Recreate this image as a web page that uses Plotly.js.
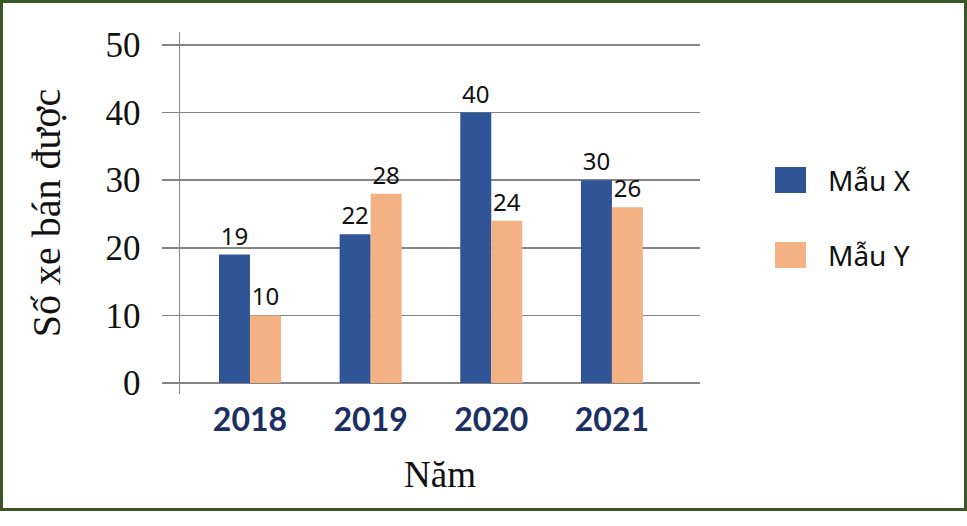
<!DOCTYPE html>
<html>
<head>
<meta charset="utf-8">
<script src="https://cdn.plot.ly/plotly-3.0.1.min.js"></script>
<style>
  html, body { margin: 0; padding: 0; background: #ffffff; }
  #wrap { position: relative; width: 967px; height: 526px; }
  #chart { width: 967px; height: 526px; }
  #frame { position: absolute; left: 0; top: 0; width: 967px; height: 511px;
           border: 3px solid #3b5726; box-sizing: border-box; pointer-events: none; }
</style>
</head>
<body>
<div id="wrap">
  <div id="chart"></div>
  <div id="frame"></div>
</div>
<script>
const years = ["2018", "2019", "2020", "2021"];
const seriesNames = ["Mẫu X", "Mẫu Y"];
const mauX = [19, 22, 40, 30];
const mauY = [10, 28, 24, 26];
const colors = ["#2f5597", "#f4b183"];
const yTicks = [0, 10, 20, 30, 40, 50];
const yTitle = "Số xe bán được";
const xTitle = "Năm";

const seriesValues = [mauX, mauY];
const traces = seriesValues.map((vals, i) => ({
  type: "bar",
  name: seriesNames[i],
  x: years,
  y: vals,
  marker: { color: colors[i] },
  text: vals.map(String),
  textposition: "outside",
  textfont: { family: "Noto Sans", size: 24, color: "#111111" },
  cliponaxis: false,
  hoverinfo: "skip"
}));

// legend drawn as shapes + annotations (large squares like the reference)
const legendBoxes = [[0.627, 0.5552], [0.4199, 0.3481]];
const shapes = seriesNames.map((n, i) => ({
  type: "rect", xref: "paper", yref: "paper",
  x0: 1.1442, x1: 1.2038, y0: legendBoxes[i][1], y1: legendBoxes[i][0],
  fillcolor: colors[i], line: { width: 0 }
}));
const annotations = seriesNames.map((n, i) => ({
  xref: "paper", yref: "paper",
  x: 1.243, y: (legendBoxes[i][0] + legendBoxes[i][1]) / 2,
  xanchor: "left", yanchor: "middle",
  text: n, showarrow: false,
  font: { family: "Noto Sans", size: 28, color: "#111111" }
}));

const layout = {
  width: 967, height: 526,
  margin: { l: 180, r: 267, t: 32, b: 132, pad: 0 },
  paper_bgcolor: "#ffffff", plot_bgcolor: "#ffffff",
  barmode: "group", bargap: 0.486, bargroupgap: 0,
  showlegend: false,
  xaxis: {
    type: "category",
    range: [-0.58, 3.73],
    showgrid: false, zeroline: false, showline: false, ticks: "",
    tickfont: { family: "Lato", size: 32, color: "#1b2f63", weight: 700 },
    ticklabelstandoff: 4,
    title: { text: xTitle, font: { family: "Liberation Serif", size: 37, color: "#111111" }, standoff: 24 }
  },
  yaxis: {
    range: [-1.63, 51.92],
    tickvals: yTicks, ticktext: yTicks.map(String),
    showgrid: true, gridcolor: "#848484", gridwidth: 1.5,
    zeroline: false,
    showline: true, linecolor: "#848484", linewidth: 1.5,
    ticks: "outside", ticklen: 17, tickcolor: "#848484", tickwidth: 1.5,
    tickfont: { family: "Liberation Serif", size: 35, color: "#111111" },
    ticklabelstandoff: 14,
    title: { text: yTitle, font: { family: "Liberation Serif", size: 40, color: "#111111" }, standoff: 32 }
  },
  shapes: shapes,
  annotations: annotations
};

Plotly.newPlot("chart", traces, layout, { staticPlot: true, displayModeBar: false });
</script>
</body>
</html>
